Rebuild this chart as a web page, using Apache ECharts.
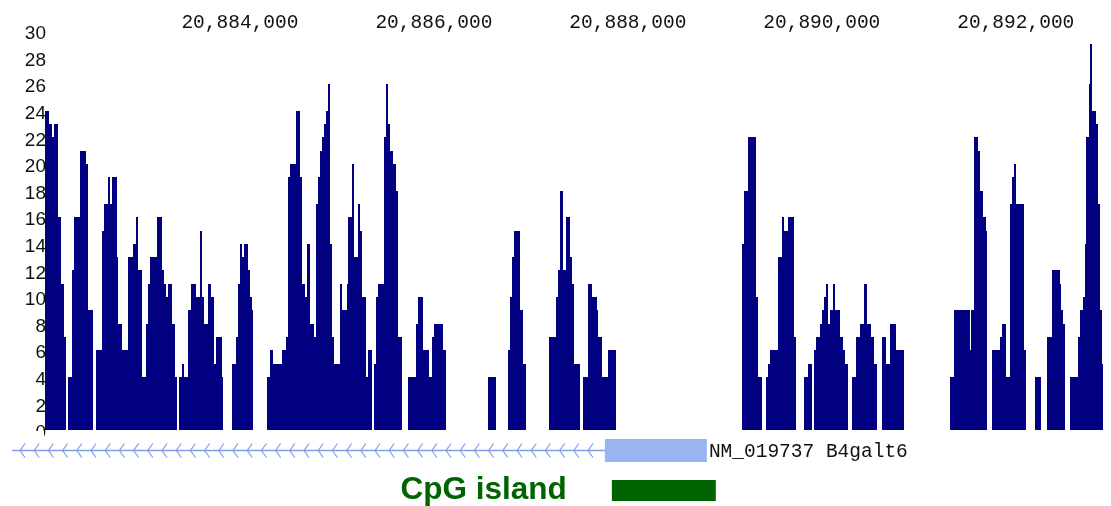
<!DOCTYPE html>
<html>
<head>
<meta charset="utf-8">
<script src="https://cdn.jsdelivr.net/npm/echarts@6/dist/echarts.min.js"></script>
<style>
  html, body { margin: 0; padding: 0; background: #fff; }
  #chart { width: 1111px; height: 506px; }
</style>
</head>
<body>
<div id="chart"></div>
<script>
// Visible window on the chromosome (bp)
const viewStart = 20881990;
const viewEnd = 20892920;

// Position ruler labels and depth labels
const positionTicks = [20884000, 20886000, 20888000, 20890000, 20892000];
const depthTicks = [0, 2, 4, 6, 8, 10, 12, 14, 16, 18, 20, 22, 24, 26, 28, 30];

// Read-depth coverage: each covered stretch is a list of step edges (bp)
// followed by the depth of every step between consecutive edges.
const stepEdges = [
  [20881990, 20882034, 20882059, 20882083, 20882127, 20882152, 20882186, 20882203],
  [20882230, 20882265, 20882289, 20882351, 20882410, 20882436, 20882488],
  [20882516, 20882575, 20882598, 20882636, 20882660, 20882684, 20882729, 20882746, 20882781, 20882843,
   20882900, 20882925, 20882946, 20882987, 20883031, 20883049, 20883072, 20883148, 20883193, 20883217,
   20883237, 20883261, 20883302, 20883330, 20883348],
  [20883375, 20883399, 20883423, 20883467, 20883492, 20883544, 20883588, 20883612, 20883629, 20883674,
   20883698, 20883732, 20883753, 20883812, 20883828],
  [20883915, 20883956, 20883983, 20884000, 20884024, 20884045, 20884086, 20884103, 20884121, 20884137],
  [20884282, 20884310, 20884344, 20884430, 20884471, 20884498, 20884516, 20884575, 20884619, 20884643,
   20884670, 20884688, 20884722, 20884763, 20884784, 20884808, 20884825, 20884849, 20884866, 20884884,
   20884904, 20884928, 20884952, 20884969, 20885031, 20885049, 20885100, 20885117, 20885152, 20885176,
   20885214, 20885237, 20885261, 20885296, 20885317, 20885358],
  [20885382, 20885399, 20885426, 20885485, 20885505, 20885529, 20885547, 20885574, 20885609, 20885632, 20885667],
  [20885729, 20885815, 20885838, 20885890, 20885952, 20885977, 20886000, 20886096, 20886121],
  [20886554, 20886636],
  [20886760, 20886784, 20886807, 20886828, 20886887, 20886921, 20886949],
  [20887189, 20887258, 20887282, 20887299, 20887333, 20887358, 20887402, 20887426, 20887444, 20887505],
  [20887539, 20887591, 20887626, 20887678, 20887694, 20887729, 20887791, 20887876],
  [20889172, 20889196, 20889240, 20889320, 20889343, 20889379],
  [20889423, 20889447, 20889464, 20889550, 20889585, 20889608, 20889647, 20889711, 20889729],
  [20889815, 20889853, 20889894],
  [20889918, 20889938, 20889980, 20890003, 20890021, 20890038, 20890059, 20890083, 20890117, 20890141,
   20890186, 20890214, 20890237, 20890265],
  [20890309, 20890351, 20890392, 20890430, 20890467, 20890512, 20890536, 20890570],
  [20890619, 20890657, 20890701, 20890760, 20890845],
  [20891320, 20891361, 20891526, 20891543, 20891567, 20891611, 20891629, 20891663, 20891688, 20891708],
  [20891750, 20891835, 20891853, 20891897, 20891938, 20891962, 20891983, 20892007, 20892083, 20892103],
  [20892203, 20892265],
  [20892327, 20892374, 20892454, 20892471, 20892488, 20892512],
  [20892557, 20892642, 20892660, 20892688, 20892711, 20892729, 20892753, 20892763, 20892784, 20892791,
   20892825, 20892849, 20892873, 20892894, 20892904]
];
const stepDepths = [
  [24, 23, 22, 23, 16, 11, 7],
  [4, 12, 16, 21, 20, 9],
  [6, 15, 17, 19, 17, 19, 13, 8, 6, 13, 14, 16, 12, 4, 8, 11, 13, 16, 12, 11, 10, 11, 8, 4],
  [4, 5, 4, 9, 11, 10, 15, 10, 8, 11, 10, 5, 7, 4],
  [5, 7, 11, 14, 13, 14, 12, 10, 9],
  [4, 6, 5, 6, 7, 19, 20, 24, 19, 11, 10, 14, 8, 7, 17, 19, 21, 22, 23, 24, 26, 14, 7, 5, 11,
   9, 11, 16, 20, 13, 17, 15, 10, 4, 6],
  [5, 10, 11, 22, 26, 23, 21, 20, 18, 7],
  [4, 8, 10, 6, 4, 7, 8, 6],
  [4],
  [6, 10, 13, 15, 9, 5],
  [7, 10, 12, 18, 12, 16, 13, 11, 5],
  [4, 11, 10, 9, 7, 4, 6],
  [14, 18, 22, 10, 4],
  [4, 5, 6, 13, 16, 15, 16, 7],
  [4, 5],
  [6, 7, 8, 9, 10, 11, 8, 9, 11, 9, 7, 6, 5],
  [4, 7, 8, 11, 8, 7, 5],
  [7, 5, 8, 6],
  [4, 9, 6, 9, 22, 21, 18, 16, 15],
  [6, 7, 8, 4, 17, 19, 20, 17, 6],
  [4],
  [7, 12, 11, 9, 8],
  [4, 7, 9, 10, 14, 22, 26, 29, 26, 24, 23, 17, 9, 5]
];

// Gene model (minus strand) and CpG island
const geneName = 'NM_019737 B4galt6';
const geneSpan = [20881650, 20888815];
const exonSpan = [20887763, 20888815];
const cpgLabel = 'CpG island';
const cpgSpan = [20887835, 20888907];

// Flatten the coverage steps into [start, end, depth] items
const coverage = [];
stepEdges.forEach((edges, b) => {
  stepDepths[b].forEach((d, i) => coverage.push([edges[i], edges[i + 1], d]));
});

const NAVY = '#000080';
const GENE_BLUE = '#7f9ee6';
const EXON_BLUE = '#99b4f0';
const CPG_GREEN = '#006400';

const chart = echarts.init(document.getElementById('chart'), null, { renderer: 'canvas' });

chart.setOption({
  animation: false,
  backgroundColor: '#ffffff',
  grid: { left: 45, right: 6, top: 31, bottom: 76, containLabel: false },
  xAxis: {
    type: 'value',
    position: 'top',
    min: viewStart,
    max: viewEnd,
    axisLine: { show: false },
    axisTick: { show: false },
    splitLine: { show: false },
    axisLabel: {
      customValues: positionTicks,
      margin: -2,
      color: '#111',
      fontFamily: 'Liberation Mono',
      fontSize: 19.5,
      formatter: v => Number(v).toLocaleString('en-US')
    }
  },
  yAxis: {
    type: 'value',
    min: depthTicks[0],
    max: depthTicks[depthTicks.length - 1],
    interval: depthTicks[1] - depthTicks[0],
    axisLine: { show: false },
    axisTick: { show: false },
    splitLine: { show: false },
    axisLabel: {
      showMinLabel: true,
      showMaxLabel: true,
      margin: -1,
      formatter: v => '{d|' + v + '}',
      rich: {
        // depth numbers sit a few pixels below their level
        d: {
          padding: [6, 0, 0, 0],
          color: '#111',
          fontFamily: 'Liberation Sans',
          fontSize: 19
        }
      }
    }
  },
  graphic: [
    // the gene track strip covers the lower half of the "0" label
    { type: 'rect', left: 0, top: 431, shape: { width: 44, height: 12 }, style: { fill: '#fff' }, z: 100 }
  ],
  series: [
    {
      type: 'custom',
      name: 'coverage',
      data: coverage,
      encode: { x: [0, 1], y: 2 },
      renderItem(params, api) {
        const top = api.coord([api.value(0), api.value(2)]);
        const bot = api.coord([api.value(1), 0]);
        // snap step edges to whole pixels so neighbouring steps join without seams
        const x0 = Math.round(top[0]);
        const x1 = Math.round(bot[0]);
        const y0 = Math.round(top[1]);
        const y1 = Math.round(bot[1]);
        return {
          type: 'rect',
          shape: { x: x0, y: y0, width: x1 - x0, height: y1 - y0 },
          style: { fill: NAVY }
        };
      }
    },
    {
      type: 'custom',
      name: 'gene',
      clip: false,
      data: [[geneSpan[0], geneSpan[1], exonSpan[0], exonSpan[1]]],
      encode: { x: [0, 1] },
      renderItem(params, api) {
        const base = api.coord([api.value(0), 0])[1];
        const x0 = api.coord([api.value(0), 0])[0];
        const xe0 = api.coord([api.value(2), 0])[0];
        const xe1 = api.coord([api.value(3), 0])[0];
        const cy = base + 20.5;
        const children = [
          { type: 'line', shape: { x1: x0, y1: cy, x2: xe0, y2: cy }, style: { stroke: GENE_BLUE, lineWidth: 1.6 } }
        ];
        for (let x = x0 + 8; x < xe0 - 4; x += 14.2) {
          children.push({
            type: 'polyline',
            shape: { points: [[x + 5, cy - 7], [x, cy], [x + 5, cy + 7]] },
            style: { stroke: GENE_BLUE, lineWidth: 1.2, fill: null }
          });
        }
        children.push({
          type: 'rect',
          shape: { x: xe0, y: cy - 11.5, width: xe1 - xe0, height: 23 },
          style: { fill: EXON_BLUE }
        });
        children.push({
          type: 'text',
          x: xe1 + 2,
          y: cy + 1.5,
          style: {
            text: geneName,
            fill: '#111',
            font: '19.5px "Liberation Mono"',
            textAlign: 'left',
            textVerticalAlign: 'middle'
          }
        });
        return { type: 'group', children };
      }
    },
    {
      type: 'custom',
      name: 'cpg',
      clip: false,
      data: [[cpgSpan[0], cpgSpan[1]]],
      encode: { x: [0, 1] },
      renderItem(params, api) {
        const p0 = api.coord([api.value(0), 0]);
        const p1 = api.coord([api.value(1), 0]);
        const y = p0[1] + 50;
        return {
          type: 'group',
          children: [
            { type: 'rect', shape: { x: p0[0], y: y, width: p1[0] - p0[0], height: 21 }, style: { fill: CPG_GREEN } },
            {
              type: 'text',
              x: p0[0] - 45,
              y: y + 10.5,
              style: {
                text: cpgLabel,
                fill: CPG_GREEN,
                font: 'bold 31.5px "Liberation Sans"',
                textAlign: 'right',
                textVerticalAlign: 'middle'
              }
            }
          ]
        };
      }
    }
  ]
});
</script>
</body>
</html>
